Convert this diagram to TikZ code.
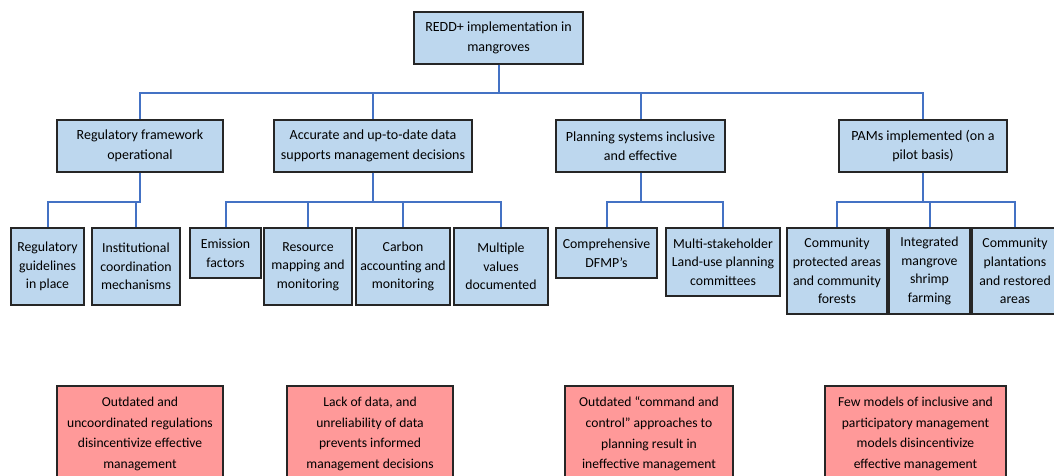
\documentclass[tikz,border=0pt]{standalone}
\usepackage{fontspec}
\setmainfont{Carlito}
\usepackage{tikz}
\usetikzlibrary{positioning,calc}
\definecolor{boxblue}{RGB}{189,215,238}
\definecolor{boxred}{RGB}{255,153,153}
\definecolor{linkblue}{RGB}{68,114,196}

\begin{document}
\begin{tikzpicture}[x=1pt,y=-1pt,
    goal/.style={draw=black!85,line width=1.2pt,fill=boxblue,align=center,inner sep=0pt,
      font=\fontsize{14}{19.5}\selectfont},
    output/.style={goal,font=\fontsize{13.8}{18.7}\selectfont},
    barrier/.style={goal,fill=boxred,font=\fontsize{13.6}{20.7}\selectfont},
    link/.style={draw=linkblue,line width=2pt}]
        \useasboundingbox (0,0) rectangle (1054,476);
        % top level
        \node[goal,minimum width=169,minimum height=52] (redd) at (498.5,38) {REDD+ implementation in\\mangroves};
        % outcomes
        \node[goal,minimum width=166,minimum height=52] (reg) at (140,146) {Regulatory framework\\operational};
        \node[goal,minimum width=198,minimum height=52] (data) at (373,146) {Accurate and up-to-date data\\supports management decisions};
        \node[goal,minimum width=169,minimum height=52] (plan) at (640.5,146) {Planning systems inclusive\\and effective};
        \node[goal,minimum width=168,minimum height=52] (pams) at (923,146) {PAMs implemented (on a\\pilot basis)};
        % outputs
        \node[output,minimum width=73,minimum height=77] (guide) at (47.5,266.5) {Regulatory\\guidelines\\in place};
        \node[output,minimum width=88,minimum height=77] (inst) at (136,266.5) {Institutional\\coordination\\mechanisms};
        \node[output,minimum width=71,minimum height=50] (emis) at (225.5,253) {Emission\\factors};
        \node[output,minimum width=88,minimum height=77] (resmap) at (308,266.5) {Resource\\mapping and\\monitoring};
        \node[output,minimum width=94,minimum height=77] (carbon) at (403,266.5) {Carbon\\accounting and\\monitoring};
        \node[output,minimum width=94,minimum height=77] (values) at (501,266.5) {Multiple\\values\\documented};
        \node[output,minimum width=101,minimum height=50] (dfmp) at (606.5,253) {Comprehensive\\DFMP’s};
        \node[output,minimum width=114,minimum height=68] (lup) at (723,262) {Multi-stakeholder\\Land-use planning\\committees};
        \node[output,minimum width=100,minimum height=86] (cpa) at (837,271) {Community\\protected areas\\and community\\forests};
        \node[output,minimum width=81,minimum height=86] (shrimp) at (929.5,271) {Integrated\\mangrove\\shrimp\\farming};
        \node[output,minimum width=86,minimum height=86] (plant) at (1015,271) {Community\\plantations\\and restored\\areas};
        % barriers
        \node[barrier,minimum width=166,minimum height=96] (bar1) at (140,434) {Outdated and\\uncoordinated regulations\\disincentivize effective\\management};
        \node[barrier,minimum width=166,minimum height=96] (bar2) at (370,434) {Lack of data, and\\unreliability of data\\prevents informed\\management decisions};
        \node[barrier,minimum width=168,minimum height=96] (bar3) at (649,434) {Outdated “command and\\control” approaches to\\planning result in\\ineffective management};
        \node[barrier,minimum width=181,minimum height=96] (bar4) at (915.5,434) {Few models of inclusive and\\participatory management\\models disincentivize\\effective management};
        % connectors
        \foreach \child in {reg,data,plan,pams}
            \draw[link] (redd.south) -- ++(0,28) -| (\child.north);
        \foreach \child in {guide,inst}
            \draw[link] (reg.south) -- ++(0,29) -| (\child.north);
        \foreach \child in {emis,resmap,carbon,values}
            \draw[link] (data.south) -- ++(0,29) -| (\child.north);
        \foreach \child in {dfmp,lup}
            \draw[link] (plan.south) -- ++(0,29) -| (\child.north);
        \foreach \child in {cpa,shrimp,plant}
            \draw[link] (pams.south) -- ++(0,29) -| (\child.north);
    \end{tikzpicture}
\end{document}
